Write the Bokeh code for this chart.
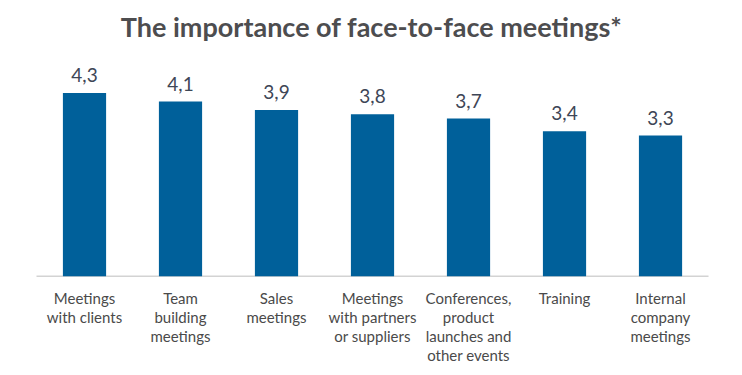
from bokeh.plotting import figure
from bokeh.models import Range1d, ColumnDataSource, Label
from bokeh.core.properties import value
from bokeh.embed import file_html
from bokeh.resources import INLINE

title_text = "The importance of face-to-face meetings*"
categories = [
    "Meetings\nwith clients",
    "Team\nbuilding\nmeetings",
    "Sales\nmeetings",
    "Meetings\nwith partners\nor suppliers",
    "Conferences,\nproduct\nlaunches and\nother events",
    "Training",
    "Internal\ncompany\nmeetings",
]
values = [4.3, 4.1, 3.9, 3.8, 3.7, 3.4, 3.3]
value_labels = ["4,3", "4,1", "3,9", "3,8", "3,7", "3,4", "3,3"]

W, H = 742, 375
x = [i + 0.5 for i in range(len(values))]
src = ColumnDataSource(dict(x=x, top=values, lab=value_labels, cat=categories,
                            zero=[0] * len(values)))

p = figure(width=W, height=H, output_backend="svg", toolbar_location=None,
           x_range=Range1d(-0.375, 7.354), y_range=Range1d(-2.331, 6.472),
           min_border=0, min_border_left=0, min_border_right=0,
           min_border_top=0, min_border_bottom=0)
p.axis.visible = False
p.grid.visible = False
p.outline_line_color = None
p.background_fill_color = "white"
p.border_fill_color = "white"

p.segment(x0=0, x1=7, y0=0, y1=0, line_color="#d3d3d3", line_width=1.5)
p.vbar(x="x", top="top", width=0.45, bottom=0, source=src,
       fill_color="#00609a", line_color=None)

p.text(x="x", y="top", text="lab", source=src, text_align="center",
       text_baseline="alphabetic", y_offset=-18, text_font=value("Lato"),
       text_font_size="19px", text_color="#3e4656")

p.text(x="x", y="zero", text="cat", source=src, text_align="center",
       text_baseline="top", y_offset=13, text_font=value("Lato"),
       text_font_size="15px", text_color="#4a4a4a", text_line_height=1.05)

p.add_layout(Label(x=371, y=375 - 26, x_units="screen", y_units="screen",
                   text=title_text, text_align="center", text_baseline="alphabetic",
                   text_font="Lato", text_font_style="bold", text_font_size="27px",
                   text_color="#4d4d4f"))

open("out.html", "w").write(file_html(p, INLINE))
